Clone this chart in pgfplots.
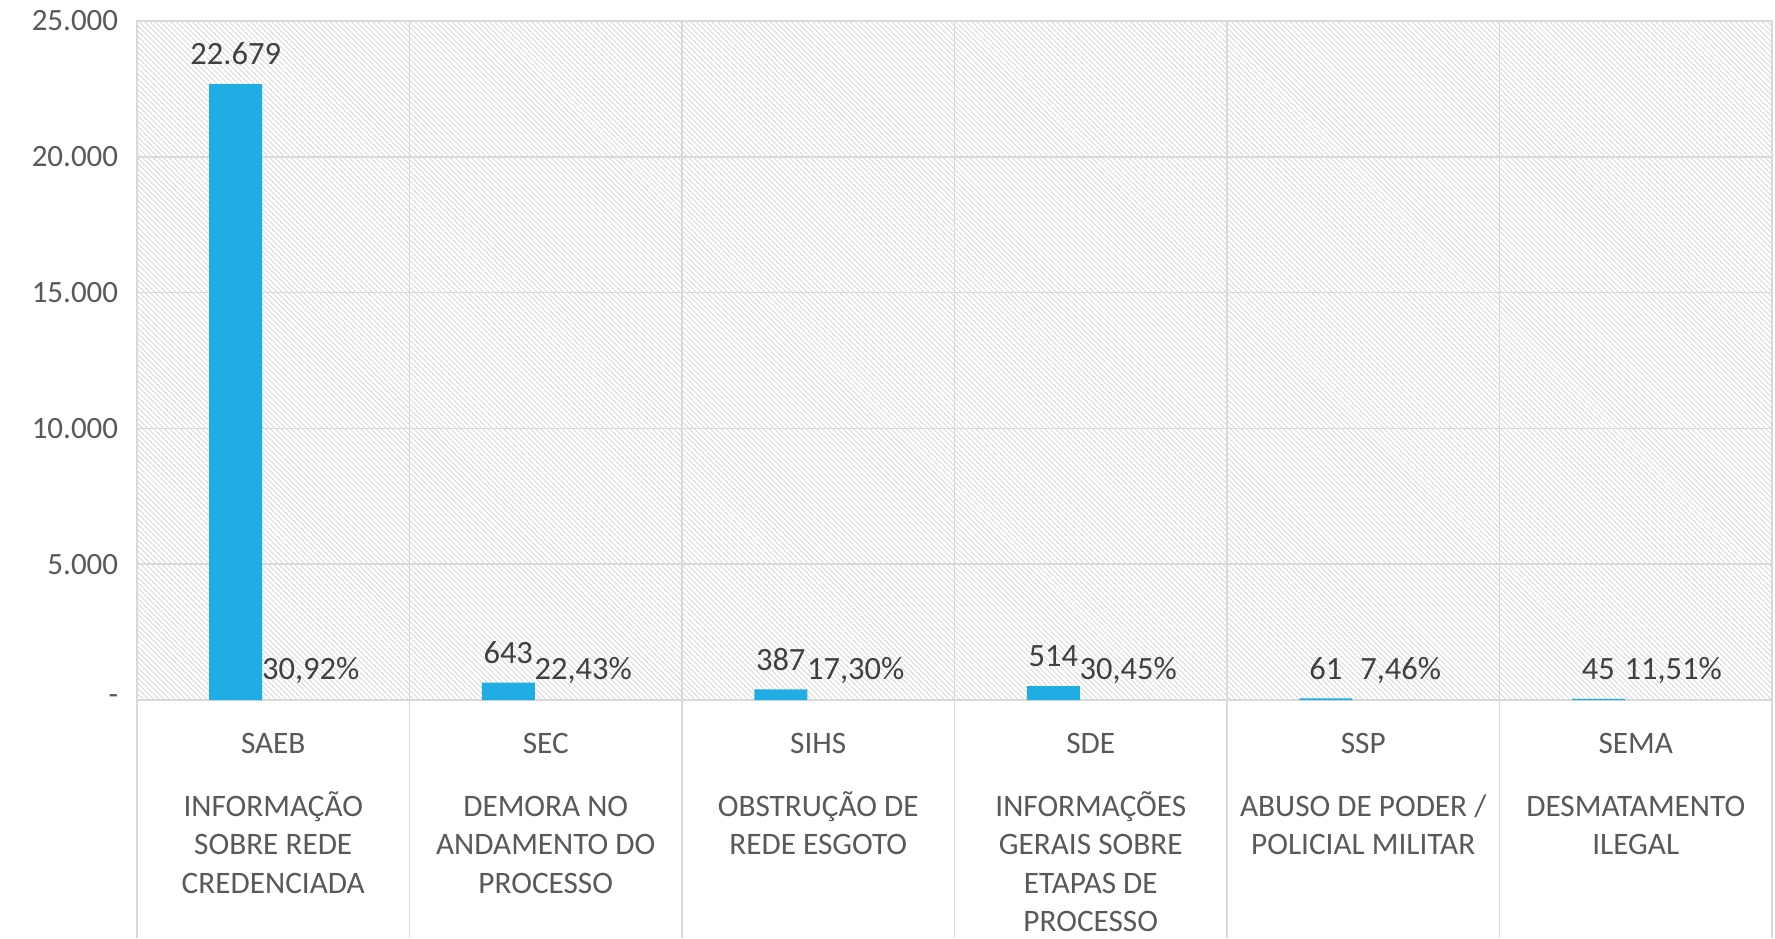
\documentclass[border=0pt]{standalone}
\usepackage{fontspec}
\setmainfont{Carlito}
\usepackage{pgfplots}
\pgfplotsset{compat=1.18}
\usetikzlibrary{patterns.meta}
\definecolor{barblue}{RGB}{31,173,228}
\definecolor{gridc}{RGB}{217,217,217}
\definecolor{txt}{RGB}{89,89,89}
\definecolor{lbl}{RGB}{64,64,64}
\definecolor{hatch}{RGB}{215,215,215}

\begin{document}
\begin{tikzpicture}
\path[use as bounding box] (-54.8pt,-95.2pt) rectangle (655.2pt,280pt);
\begin{axis}[
    at={(0,0)}, anchor=south west,
    scale only axis, width=654pt, height=271.6pt,
    ymin=0, ymax=25000, xmin=-0.5, xmax=5.5,
    scaled y ticks=false,
    ytick={0,5000,10000,15000,20000,25000},
    yticklabels={-,5.000,10.000,15.000,20.000,25.000},
    xtick={0,1,2,3,4,5},
    xticklabels={
        {SAEB\\[9.8pt]INFORMAÇÃO\\SOBRE REDE\\CREDENCIADA},
        {SEC\\[9.8pt]DEMORA NO\\ANDAMENTO DO\\PROCESSO},
        {SIHS\\[9.8pt]OBSTRUÇÃO DE\\REDE ESGOTO},
        {SDE\\[9.8pt]INFORMAÇÕES\\GERAIS SOBRE\\ETAPAS DE\\PROCESSO},
        {SSP\\[9.8pt]ABUSO DE PODER /\\POLICIAL MILITAR},
        {SEMA\\[9.8pt]DESMATAMENTO\\ILEGAL}},
    major tick length=0pt,
    ymajorgrids, grid style={gridc, line width=0.6pt},
    axis line style={gridc, line width=0.6pt},
    axis background/.style={pattern={Lines[angle=-45,distance=1.5pt,line width=0.35pt]}, pattern color=hatch},
    yticklabel style={font=\fontsize{12.4}{16}\selectfont, text=txt, xshift=-4pt},
    xticklabel style={font=\fontsize{12.5}{15.4}\selectfont, text=txt, align=center, anchor=north, yshift=-9.6pt},
    ybar, bar width=21.2pt,
    clip=false,
    point meta=explicit symbolic,
    nodes near coords,
    every node near coord/.append style={font=\fontsize{13}{15}\selectfont, text=lbl, anchor=center, yshift=12pt},
]
% quantidade de manifestacoes
\addplot[fill=barblue, draw=none, bar shift=-15pt] coordinates {
    (0,22679) [22.679]
    (1,643) [643]
    (2,387) [387]
    (3,514) [514]
    (4,61) [61]
    (5,45) [45]
};
% percentual
\addplot[fill=none, draw=none, bar shift=15pt] coordinates {
    (0,0) [30,92\%]
    (1,0) [22,43\%]
    (2,0) [17,30\%]
    (3,0) [30,45\%]
    (4,0) [7,46\%]
    (5,0) [11,51\%]
};
\pgfplotsinvokeforeach{-0.5,0.5,1.5,2.5,3.5,4.5,5.5}{
    \draw[gridc, line width=0.6pt] (axis cs:#1,25000) -- (axis cs:#1,0) -- ++(0pt,-95.2pt);
}
\end{axis}
\end{tikzpicture}
\end{document}
